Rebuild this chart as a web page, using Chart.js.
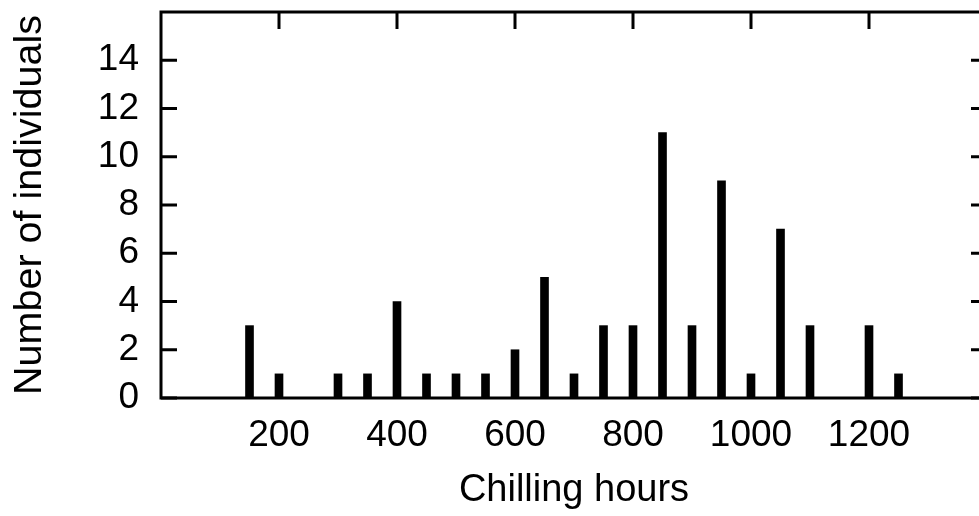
<!DOCTYPE html>
<html>
<head>
<meta charset="utf-8">
<script src="https://cdn.jsdelivr.net/npm/chart.js@4"></script>
<style>
  html, body { margin: 0; padding: 0; background: #fff; overflow: hidden; }
  #wrap { width: 979px; height: 516px; overflow: hidden; }
</style>
</head>
<body>
<div id="wrap"><canvas id="canvas" width="1000" height="516"></canvas></div>
<script>
// chilling hours (bin centres) and counts
let hours = [150, 200, 300, 350, 400, 450, 500, 550, 600, 650, 700, 750, 800, 850, 900, 950, 1000, 1050, 1100, 1200, 1250];
let counts = [3, 1, 1, 1, 4, 1, 1, 1, 2, 5, 1, 3, 3, 11, 3, 9, 1, 7, 3, 3, 1];
let xTicks = [200, 400, 600, 800, 1000, 1200];
let yTicks = [0, 2, 4, 6, 8, 10, 12, 14];

let points = [];
hours.forEach((h, i) => {
    points.push({ x: h, y: counts[i] });
});

const FONT = 'Liberation Sans, Arial, Helvetica, sans-serif';

// gnuplot style frame with inward ticks on all four sides
const framePlugin = {
    id: 'frame',
    afterDatasetsDraw(chart) {
        const ctx = chart.ctx;
        const a = chart.chartArea;
        const xs = chart.scales.x, ys = chart.scales.y;
        ctx.save();
        ctx.strokeStyle = '#000';
        ctx.lineWidth = 3;
        ctx.lineCap = 'butt';
        ctx.beginPath();
        yTicks.forEach(v => {
            let py = ys.getPixelForValue(v);
            ctx.moveTo(a.left, py); ctx.lineTo(a.left + 16, py);
            ctx.moveTo(a.right, py); ctx.lineTo(a.right - 16, py);
        });
        xTicks.forEach(v => {
            let px = xs.getPixelForValue(v);
            ctx.moveTo(px, a.top); ctx.lineTo(px, a.top + 17);
            ctx.moveTo(px, a.bottom); ctx.lineTo(px, a.bottom - 17);
        });
        ctx.stroke();
        ctx.strokeRect(a.left, a.top, a.right - a.left, a.bottom - a.top);
        ctx.restore();
    }
};

var ctx = document.getElementById('canvas').getContext('2d');
let myChart = new Chart(ctx, {
    type: 'bar',
    data: {
        datasets: [{
            data: points,
            backgroundColor: '#000',
            borderWidth: 0,
            barThickness: 8
        }]
    },
    options: {
        responsive: false,
        animation: false,
        layout: { padding: { top: 12, right: 13, left: 0, bottom: 0 } },
        plugins: { legend: { display: false }, tooltip: { enabled: false } },
        scales: {
            x: {
                type: 'linear',
                min: 0,
                max: 1400,
                offset: false,
                afterBuildTicks: scale => { scale.ticks = xTicks.map(v => ({ value: v })); },
                afterFit: scale => { scale.height = 118; scale.paddingLeft = 0; scale.paddingRight = 0; },
                grid: { display: false, drawTicks: false, offset: false },
                border: { display: false },
                ticks: { color: '#000', font: { family: FONT, size: 37 }, padding: 16, maxRotation: 0, autoSkip: false, callback: v => String(v) },
                title: { display: true, text: 'Chilling hours', color: '#000', font: { family: FONT, size: 38 }, padding: { top: 0, bottom: 3 } }
            },
            y: {
                min: 0,
                max: 16,
                afterBuildTicks: scale => { scale.ticks = yTicks.map(v => ({ value: v })); },
                afterFit: scale => { scale.width = 161; scale.paddingTop = 0; scale.paddingBottom = 0; },
                grid: { display: false, drawTicks: false },
                border: { display: false },
                ticks: { color: '#000', font: { family: FONT, size: 37 }, padding: 22, callback: v => String(v) },
                title: { display: true, text: 'Number of individuals', color: '#000', font: { family: FONT, size: 39.5 }, padding: { top: 6, bottom: 0 } }
            }
        }
    },
    plugins: [framePlugin]
});
</script>
</body>
</html>
